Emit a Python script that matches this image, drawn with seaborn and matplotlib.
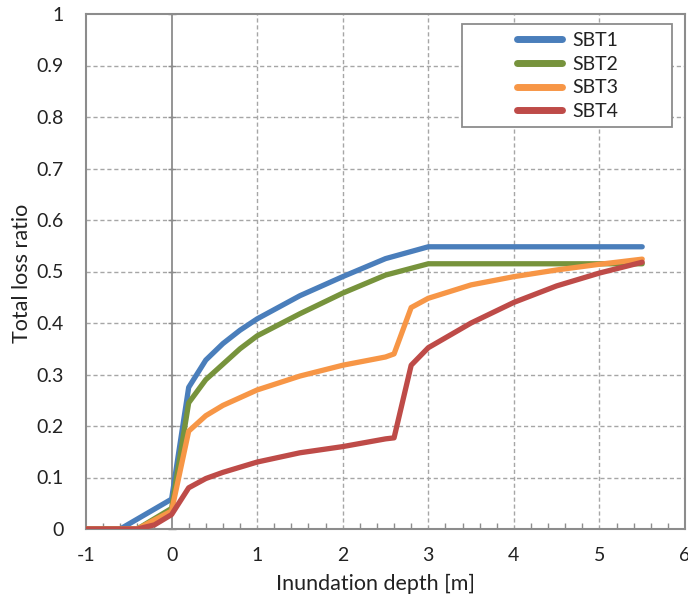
import matplotlib
matplotlib.use("Agg")
import matplotlib.pyplot as plt
from matplotlib.ticker import MultipleLocator
from matplotlib.patches import Rectangle
import seaborn as sns
import pandas as pd

# ---- data ----
sbt1_x = [-1, -0.6, 0, 0.2, 0.4, 0.6, 0.8, 1.0, 1.5, 2.0, 2.5, 3.0, 3.5, 4.0, 4.5, 5.0, 5.5]
sbt1_y = [0, 0, 0.058, 0.275, 0.328, 0.36, 0.386, 0.408, 0.453, 0.49, 0.525, 0.548, 0.548, 0.548, 0.548, 0.548, 0.548]

sbt2_x = [-1, -0.4, 0, 0.2, 0.4, 0.6, 0.8, 1.0, 1.5, 2.0, 2.5, 3.0, 3.5, 4.0, 4.5, 5.0, 5.5]
sbt2_y = [0, 0, 0.04, 0.245, 0.29, 0.32, 0.35, 0.375, 0.418, 0.458, 0.493, 0.515, 0.515, 0.515, 0.515, 0.515, 0.515]

sbt3_x = [-1, -0.4, 0, 0.2, 0.4, 0.6, 0.8, 1.0, 1.5, 2.0, 2.5, 2.6, 2.8, 3.0, 3.5, 4.0, 4.5, 5.0, 5.5]
sbt3_y = [0, 0, 0.035, 0.19, 0.22, 0.24, 0.255, 0.27, 0.297, 0.318, 0.334, 0.34, 0.43, 0.448, 0.474, 0.49, 0.503, 0.514, 0.524]

sbt4_x = [-1, -0.4, -0.2, 0, 0.2, 0.4, 0.6, 0.8, 1.0, 1.5, 2.0, 2.5, 2.6, 2.8, 3.0, 3.5, 4.0, 4.5, 5.0, 5.5]
sbt4_y = [0, 0, 0.008, 0.028, 0.08, 0.098, 0.11, 0.12, 0.13, 0.148, 0.16, 0.175, 0.177, 0.318, 0.352, 0.4, 0.44, 0.472, 0.497, 0.518]

series_names = ["SBT1", "SBT2", "SBT3", "SBT4"]
series_x = [sbt1_x, sbt2_x, sbt3_x, sbt4_x]
series_y = [sbt1_y, sbt2_y, sbt3_y, sbt4_y]
colors = ["#4A7EBB", "#77933C", "#F79646", "#BE4B48"]

x_ticks = [-1, 0, 1, 2, 3, 4, 5, 6]
y_ticks = [0, 0.1, 0.2, 0.3, 0.4, 0.5, 0.6, 0.7, 0.8, 0.9, 1.0]
y_tick_labels = ["0", "0.1", "0.2", "0.3", "0.4", "0.5", "0.6", "0.7", "0.8", "0.9", "1"]

frames = []
for name, xs, ys in zip(series_names, series_x, series_y):
    frames.append(pd.DataFrame({"depth": xs, "ratio": ys, "type": name}))
df = pd.concat(frames, ignore_index=True)

sns.set_style("white")
plt.rcParams["font.family"] = ["Lato", "DejaVu Sans"]

W, H = 688, 607
fig = plt.figure(figsize=(W / 100, H / 100), dpi=100)
L, R, T, B = 86, 685, 14, 529
ax = fig.add_axes([L / W, (H - B) / H, (R - L) / W, (B - T) / H])

axis_gray = "#8C8C8C"
grid_gray = "#A6A6A6"
text_col = "#222222"

# grid
for xv in x_ticks[1:-1]:
    if xv != 0:
        ax.axvline(xv, color=grid_gray, lw=1.0, ls=(0, (3, 2)), zorder=0)
for yv in y_ticks[1:-1]:
    ax.axhline(yv, color=grid_gray, lw=1.0, ls=(0, (3, 2)), zorder=0)

sns.lineplot(data=df, x="depth", y="ratio", hue="type", palette=colors,
             hue_order=series_names, linewidth=3.8, sort=False,
             estimator=None, ax=ax, zorder=3, legend=True)

ax.set_xlim(-1, 6)
ax.set_ylim(0, 1)
ax.set_xticks(x_ticks)
ax.set_xticklabels([str(v) for v in x_ticks])
ax.set_yticks(y_ticks)
ax.set_yticklabels(y_tick_labels)
ax.xaxis.set_minor_locator(MultipleLocator(0.2))

for sp in ax.spines.values():
    sp.set_visible(True)
    sp.set_color(axis_gray)
    sp.set_linewidth(1.5)

ax.tick_params(axis="x", which="major", direction="inout", length=8, width=1.2,
               color=axis_gray, labelsize=14, labelcolor=text_col, pad=9)
ax.tick_params(axis="x", which="minor", direction="in", length=4, width=1.0,
               color=axis_gray, bottom=True)
ax.tick_params(axis="y", which="major", length=0, labelsize=14,
               labelcolor=text_col, pad=16)

# vertical value axis crossing at x = 0
sec = ax.secondary_yaxis(1 / 7)
sec.spines["left"].set_color(axis_gray)
sec.spines["left"].set_linewidth(1.3)
sec.set_yticks(y_ticks)
sec.tick_params(axis="y", direction="inout", length=6, width=1.0,
                color=axis_gray, labelleft=False)
sec.set_yticklabels([])

ax.set_xlabel("Inundation depth [m]", fontsize=15.5, color=text_col)
ax.set_ylabel("Total loss ratio", fontsize=15.5, color=text_col)
ax.xaxis.set_label_coords((376 - L) / (R - L), (B - 574) / (B - T))
ax.yaxis.set_label_coords((32 - L) / (R - L), (B - 273) / (B - T))

# legend (frame drawn as a separate box like the reference)
box_x0, box_x1, box_y0, box_y1 = 462, 672, 24, 127
ax.add_patch(Rectangle(((box_x0 - L) / (R - L), (B - box_y1) / (B - T)),
                       (box_x1 - box_x0) / (R - L), (box_y1 - box_y0) / (B - T),
                       transform=ax.transAxes, facecolor="white",
                       edgecolor=axis_gray, lw=1.3, zorder=4))
leg = ax.legend(loc="center left",
                bbox_to_anchor=((517 - L) / (R - L), (B - 76) / (B - T)),
                fontsize=14, frameon=False, handlelength=2.3,
                handletextpad=0.55, borderpad=0, borderaxespad=0,
                labelspacing=0.35)
leg.set_zorder(5)
for line in leg.get_lines():
    line.set_linewidth(5)
    line.set_solid_capstyle("round")
for t in leg.get_texts():
    t.set_color(text_col)

fig.savefig("out.png", dpi=100)
